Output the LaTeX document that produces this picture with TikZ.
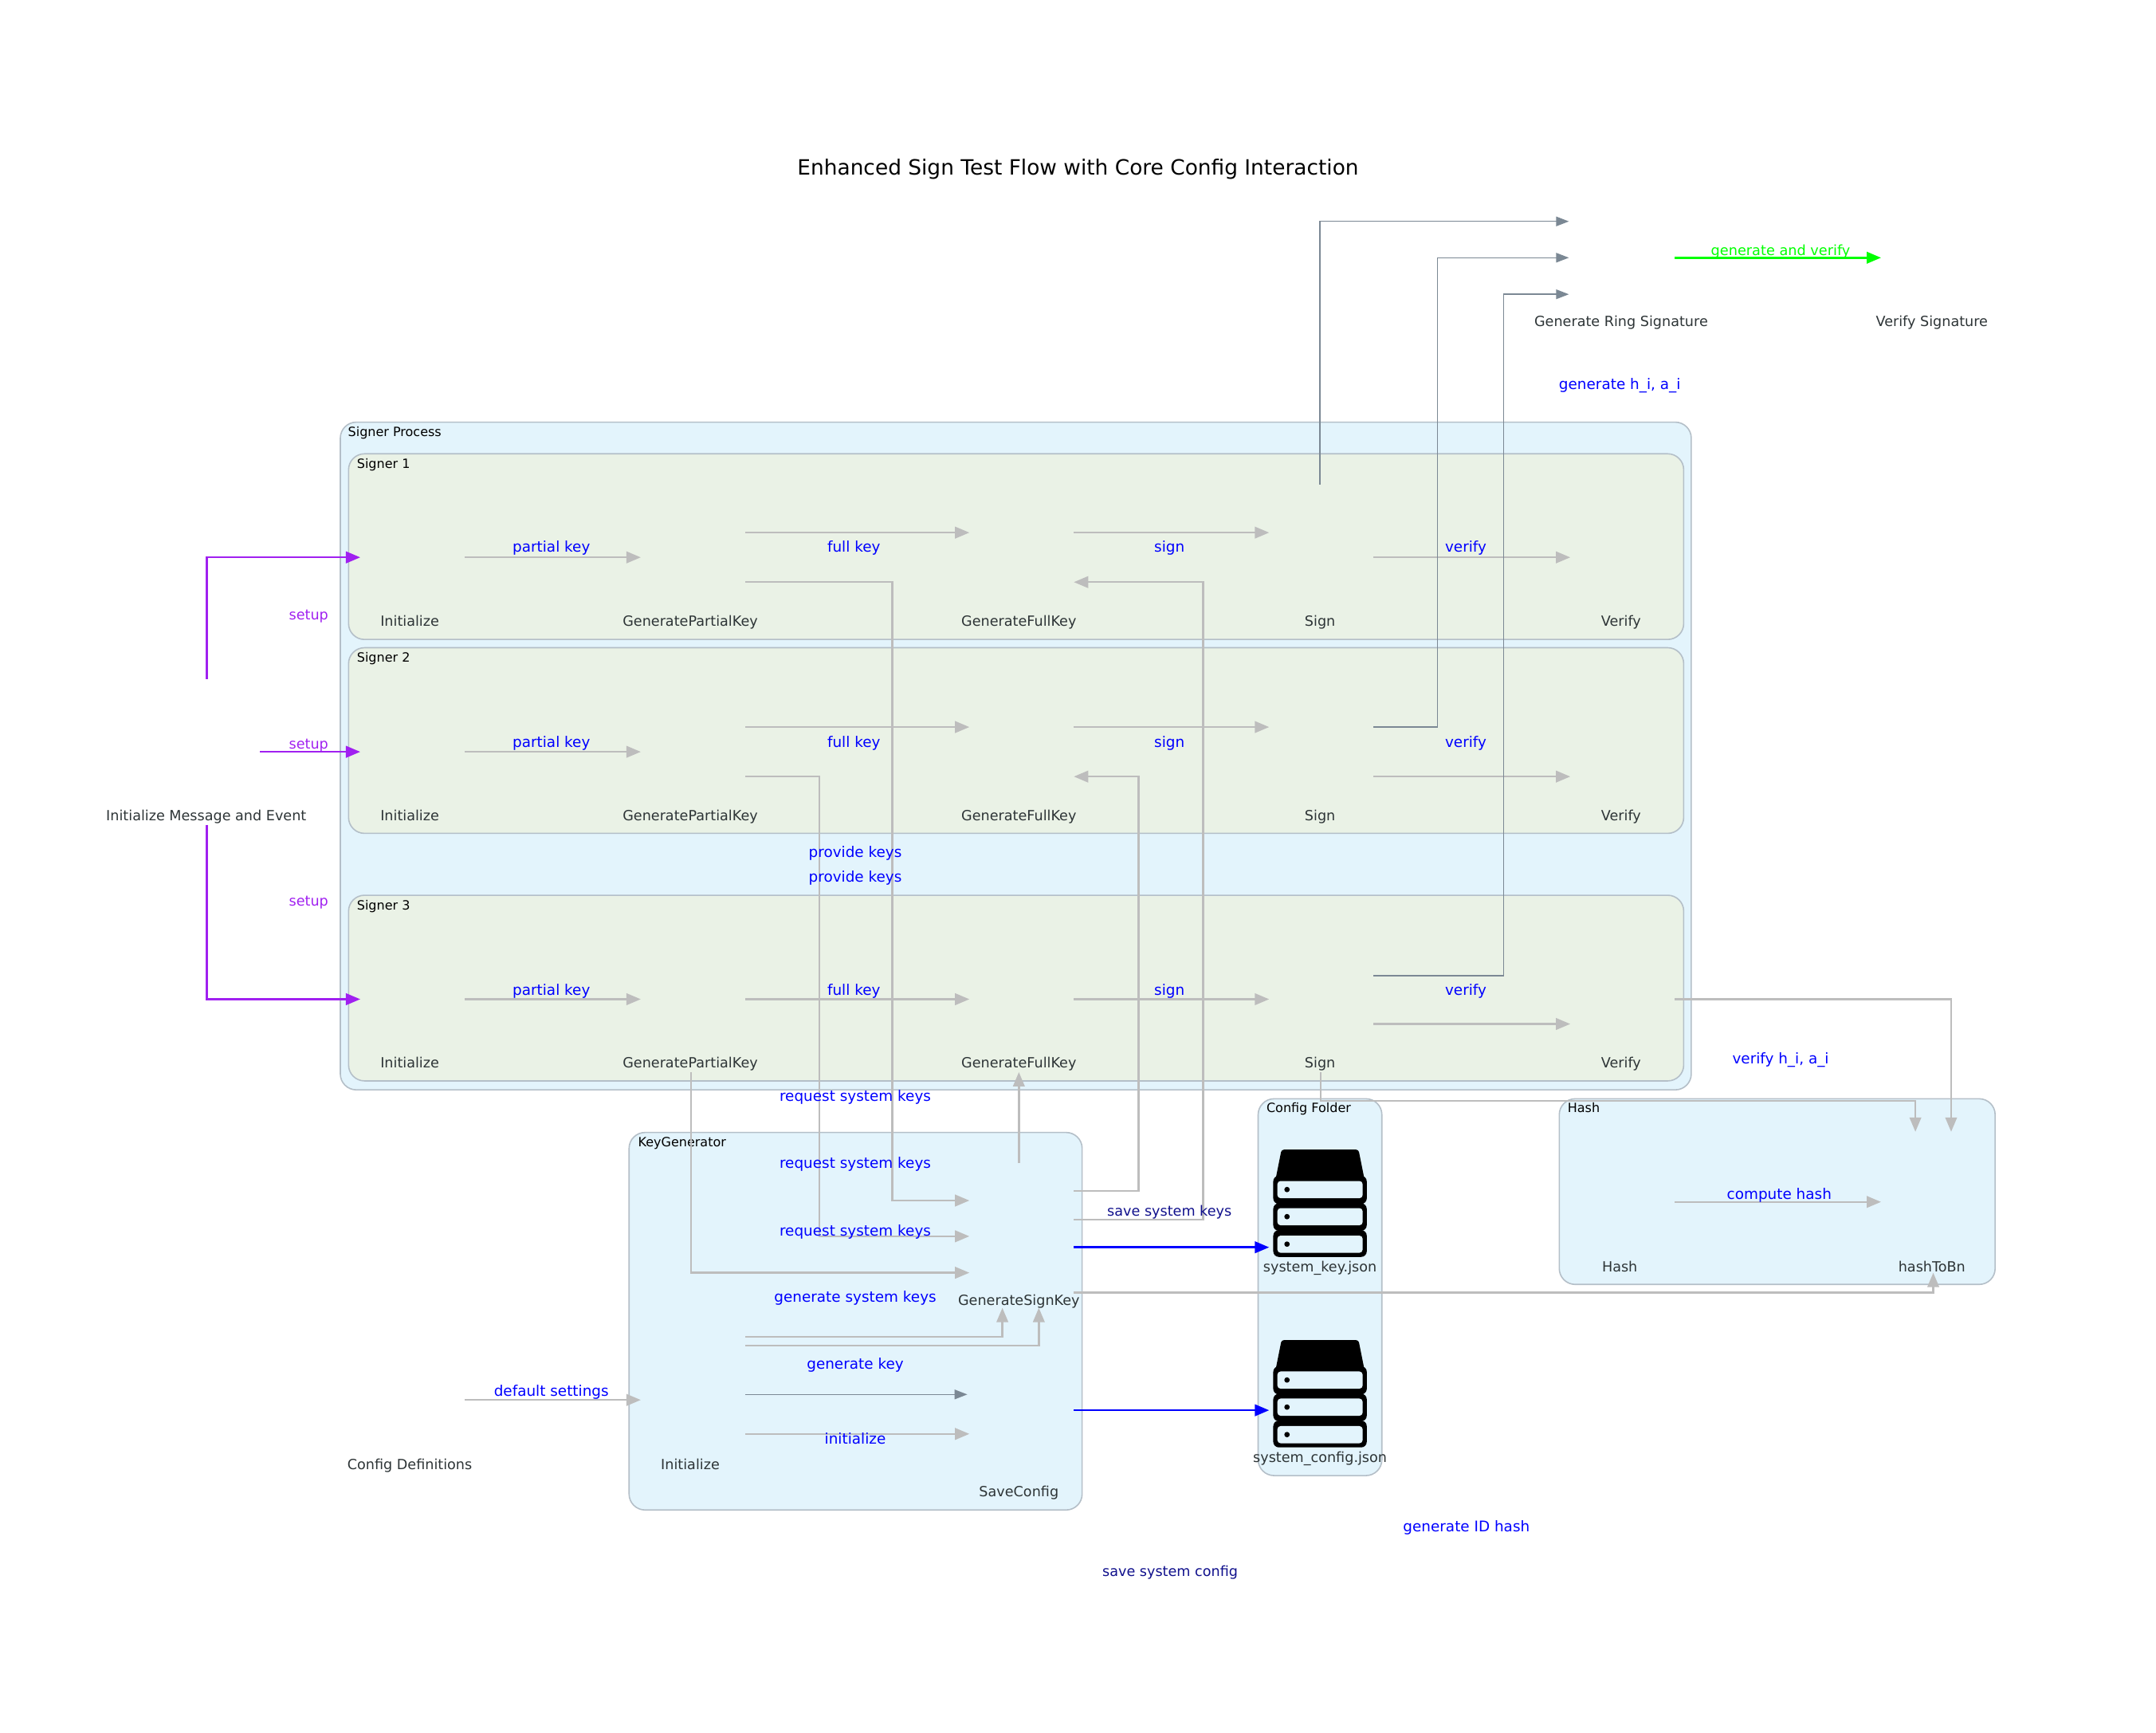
\documentclass[tikz,border=0pt]{standalone}
\usepackage{fontspec}
\setmainfont{DejaVu Sans}
\usetikzlibrary{arrows.meta,calc}
\definecolor{cfill}{HTML}{E3F4FC}
\definecolor{sfill}{HTML}{EAF2E6}
\definecolor{cline}{HTML}{B4BFC8}
\definecolor{gedge}{HTML}{BDBDBD}
\definecolor{sedge}{HTML}{7B8894}
\definecolor{ptxt}{HTML}{A020F0}
\definecolor{ntxt}{HTML}{2D3436}
\definecolor{navy}{HTML}{10108C}
\definecolor{lime}{HTML}{00FF00}
\tikzset{
  cluster/.style={draw=cline,line width=1.6pt,fill=cfill,rounded corners=20pt},
  signerbox/.style={draw=cline,line width=1.6pt,fill=sfill,rounded corners=20pt},
  clab/.style={anchor=west,inner sep=0pt,text=black,yshift=-2.6pt,font=\fontsize{16pt}{19pt}\selectfont,text height=0.75em,text depth=0.2em},
  nlab/.style={inner sep=0pt,text=ntxt,yshift=-3.4pt,font=\fontsize{17.6pt}{21pt}\selectfont,text height=0.75em,text depth=0.2em},
  elab/.style={inner sep=0pt,text=blue,yshift=-3.4pt,font=\fontsize{18.4pt}{22pt}\selectfont,text height=0.75em,text depth=0.2em},
  navylab/.style={elab,text=navy,font=\fontsize{17.6pt}{21pt}\selectfont},
  pluslab/.style={elab,text=ptxt,font=\fontsize{17.6pt}{21pt}\selectfont},
  greenlab/.style={elab,text=lime,font=\fontsize{17.7pt}{21pt}\selectfont},
  titlelab/.style={inner sep=0pt,text=black,yshift=-3.4pt,font=\fontsize{26.4pt}{31pt}\selectfont},
  icon/.style={minimum width=131.1pt,minimum height=182.9pt,inner sep=0pt,outer sep=0pt},
  gedgeline/.style={draw=gedge,line width=2.4pt,-{Triangle[length=18pt,width=14.5pt]}},
  sedgeline/.style={draw=sedge,line width=1.4pt,-{Triangle[length=16pt,width=12pt]}},
  bedgeline/.style={draw=blue,line width=2.6pt,-{Triangle[length=18pt,width=14.5pt]}},
  pedgeline/.style={draw=ptxt,line width=2.6pt,-{Triangle[length=18pt,width=14.5pt]}},
  ledgeline/.style={draw=lime,line width=2.6pt,-{Triangle[length=18pt,width=14.5pt]}},
  dbstack/.pic={
    \fill[black,rounded corners=3pt] (-28,-39) -- (28,-39) -- (33,-14) -- (-33,-14) -- cycle;
    \fill[black,rounded corners=7pt] (-34,-20) rectangle (34,0.5);
    \fill[black,rounded corners=7pt] (-34,0) rectangle (34,20);
    \fill[black,rounded corners=7pt] (-34,19.5) rectangle (34,39);
    \foreach \yy in {-16.2,3.5,23.5}{
      \fill[cfill,rounded corners=4pt] (-31,\yy) rectangle (31,\yy+12.5);
      \fill[black] (-24,\yy+6.2) circle (3.4pt);
    }
  }
}
\begin{document}
\begin{tikzpicture}[x=1.72513pt,y=-1.72513pt]
\useasboundingbox (0,0) rectangle (1568,1260.2);
% clusters
\path[cluster] (247.5,307) rectangle (1230,792.5);
\path[signerbox] (253.5,330) rectangle (1224.5,465);
\path[signerbox] (253.5,471) rectangle (1224.5,606);
\path[signerbox] (253.5,651) rectangle (1224.5,786);
\path[cluster] (457.5,823.5) rectangle (787,1098);
\path[cluster] (915,799) rectangle (1005,1073);
\path[cluster] (1134,799) rectangle (1451,934);
\node[clab] (cSP) at (253,314.5) {Signer Process};
\node[clab] (cS1) at (259.5,337.5) {Signer 1};
\node[clab] (cS2) at (259.5,478.5) {Signer 2};
\node[clab] (cS3) at (259.5,658.5) {Signer 3};
\node[clab] (cKG) at (464,831) {KeyGenerator};
\node[clab] (cCF) at (921,806) {Config Folder};
\node[clab] (cH) at (1140,806) {Hash};
% title
\node[titlelab] (title) at (784,121) {Enhanced Sign Test Flow with Core Config Interaction};
% icon nodes
\foreach \i/\y in {1/405.3,2/546.7,3/726.6}{
  \node[icon] (s\i init) at (300,\y) {};
  \node[icon] (s\i gpk) at (504,\y) {};
  \node[icon] (s\i gfk) at (743,\y) {};
  \node[icon] (s\i sign) at (961,\y) {};
  \node[icon] (s\i ver) at (1180,\y) {};
}
\foreach \i/\y in {1/452,2/593,3/773}{
  \node[nlab] (s\i initL) at (298,\y) {Initialize};
  \node[nlab] (s\i gpkL) at (502,\y) {GeneratePartialKey};
  \node[nlab] (s\i gfkL) at (741,\y) {GenerateFullKey};
  \node[nlab] (s\i signL) at (960,\y) {Sign};
  \node[nlab] (s\i verL) at (1179,\y) {Verify};
}
\node[icon] (msg) at (151,546.7) {};
\node[nlab] (msgL) at (150,593) {Initialize Message and Event};
\node[icon] (ring) at (1180,187.4) {};
\node[nlab] (ringL) at (1179,234) {Generate Ring Signature};
\node[icon] (vsig) at (1406,187.4) {};
\node[nlab] (vsigL) at (1405,234) {Verify Signature};
\node[icon] (cdef) at (300,1018) {};
\node[nlab] (cdefL) at (298,1065) {Config Definitions};
\node[icon] (kinit) at (504,1018) {};
\node[nlab] (kinitL) at (502,1065) {Initialize};
\node[icon] (gsk) at (743,899) {};
\node[nlab] (gskL) at (741,945.5) {GenerateSignKey};
\node[icon] (save) at (743,1038) {};
\node[nlab] (saveL) at (741,1085) {SaveConfig};
\node[icon] (skey) at (961,875) {};
\node[nlab] (skeyL) at (960,921) {system\_key.json};
\node[icon] (scfg) at (961,1013) {};
\node[nlab] (scfgL) at (960,1060) {system\_config.json};
\node[icon] (hash) at (1180,874) {};
\node[nlab] (hashL) at (1178,921) {Hash};
\node[icon] (hbn) at (1406,874) {};
\node[nlab] (hbnL) at (1405,921) {hashToBn};
\pic at (960,875) {dbstack};
\pic at (960,1013.5) {dbstack};
% signer rows
\foreach \i in {1,2,3}{
  \draw[gedgeline] (s\i init.east) -- (s\i gpk.west);
}
\draw[gedgeline] ($(s1gpk.east)+(0,-18)$) -- ($(s1gfk.west)+(0,-18)$);
\draw[gedgeline] ($(s1gfk.east)+(0,-18)$) -- ($(s1sign.west)+(0,-18)$);
\draw[gedgeline] (s1sign.east) -- (s1ver.west);
\draw[gedgeline] ($(s2gpk.east)+(0,-18)$) -- ($(s2gfk.west)+(0,-18)$);
\draw[gedgeline] ($(s2gfk.east)+(0,-18)$) -- ($(s2sign.west)+(0,-18)$);
\draw[gedgeline] ($(s2sign.east)+(0,18)$) -- ($(s2ver.west)+(0,18)$);
\draw[gedgeline] (s3gpk.east) -- (s3gfk.west);
\draw[gedgeline] (s3gfk.east) -- (s3sign.west);
\draw[gedgeline] ($(s3sign.east)+(0,18)$) -- ($(s3ver.west)+(0,18)$);
% key requests
\draw[gedgeline] ($(s1gpk.east)+(0,18)$) -- ++(107,0) |- ($(gsk.west)+(0,-26)$);
\draw[gedgeline] ($(s2gpk.east)+(0,18)$) -- ++(54,0) |- (gsk.west);
\draw[gedgeline] ($(s3gpk.south)+(-1.5,0)$) |- ($(gsk.west)+(0,26.5)$);
% key provision
\draw[gedgeline] ($(gsk.east)+(0,-12)$) -- ++(94,0) |- ($(s1gfk.east)+(0,18)$);
\draw[gedgeline] ($(gsk.east)+(0,-33)$) -- ++(47,0) |- ($(s2gfk.east)+(0,18)$);
\draw[gedgeline] ($(gsk.north)+(-2,0)$) -- ($(s3gfk.south)+(-2,0)$);
\draw[gedgeline] ($(gsk.east)+(0,41)$) -| ($(hbn.south)+(0,-1.5)$);
% key generator inner
\draw[gedgeline] ($(kinit.east)+(0,-46)$) -| ($(gsk.south)+(-14,-1)$);
\draw[gedgeline] ($(kinit.east)+(0,-39.5)$) -| ($(gsk.south)+(12.5,-1)$);
\draw[sedgeline] ($(kinit.east)+(0,-4)$) -- ($(save.west)+(-1.5,-24)$);
\draw[gedgeline] ($(kinit.east)+(0,24.7)$) -- ($(save.west)+(0,4.7)$);
\draw[gedgeline] (cdef.east) -- (kinit.west);
% to config folder
\draw[bedgeline] ($(gsk.east)+(0,8)$) -- ($(skey.west)+(0,32)$);
\draw[bedgeline] ($(save.east)+(0,-12.5)$) -- ($(scfg.west)+(0,12.5)$);
% to ring signature
\draw[sedgeline] ($(s1sign.north)+(-1,0)$) |- ($(ring.west)+(-1,-26.4)$);
\draw[sedgeline] ($(s2sign.east)+(0,-18)$) -- ++(46.5,0) |- ($(ring.west)+(-1,0)$);
\draw[sedgeline] ($(s3sign.east)+(0,-17)$) -- ++(94.5,0) |- ($(ring.west)+(-1,26.6)$);
\draw[ledgeline] (ring.east) -- (vsig.west);
% to hash
\draw[gedgeline] ($(s3sign.south)+(-0.5,0)$) |- (1393,800.5) -- ($(hbn.north)+(-13,2)$);
\draw[gedgeline] (s3ver.east) -| ($(hbn.north)+(13,2)$);
\draw[gedgeline] (hash.east) -- (hbn.west);
% setup
\draw[pedgeline] ($(msg.north)+(-0.5,0)$) |- (s1init.west);
\draw[pedgeline] (msg.east) -- (s2init.west);
\draw[pedgeline] ($(msg.south)+(-0.5,0)$) |- (s3init.west);
% edge labels
\foreach \i/\y in {1/398,2/540,3/720}{
  \node[elab] (pk\i) at (401,\y) {partial key};
  \node[elab] (fk\i) at (621,\y) {full key};
  \node[elab] (sg\i) at (850.5,\y) {sign};
  \node[elab] (vf\i) at (1066,\y) {verify};
}
\node[pluslab] (st1) at (224.5,447) {setup};
\node[pluslab] (st2) at (224.5,541) {setup};
\node[pluslab] (st3) at (224.5,655) {setup};
\node[elab] (pv1) at (622,620) {provide keys};
\node[elab] (pv2) at (622,638) {provide keys};
\node[elab] (rq1) at (622,797.5) {request system keys};
\node[elab] (rq2) at (622,846) {request system keys};
\node[elab] (rq3) at (622,895) {request system keys};
\node[elab] (gs) at (622,943.5) {generate system keys};
\node[elab] (gk) at (622,992) {generate key};
\node[elab] (ini) at (622,1046.5) {initialize};
\node[elab] (dfs) at (401,1012) {default settings};
\node[navylab] (ssk) at (850.5,881) {save system keys};
\node[navylab] (ssc) at (851,1142.5) {save system config};
\node[elab] (gid) at (1066.5,1110.5) {generate ID hash};
\node[elab] (vha) at (1295,770) {verify h\_i, a\_i};
\node[elab] (cph) at (1294,868.5) {compute hash};
\node[elab] (gha) at (1178,279.5) {generate h\_i, a\_i};
\node[greenlab] (gav) at (1295,182) {generate and verify};
\end{tikzpicture}
\end{document}
